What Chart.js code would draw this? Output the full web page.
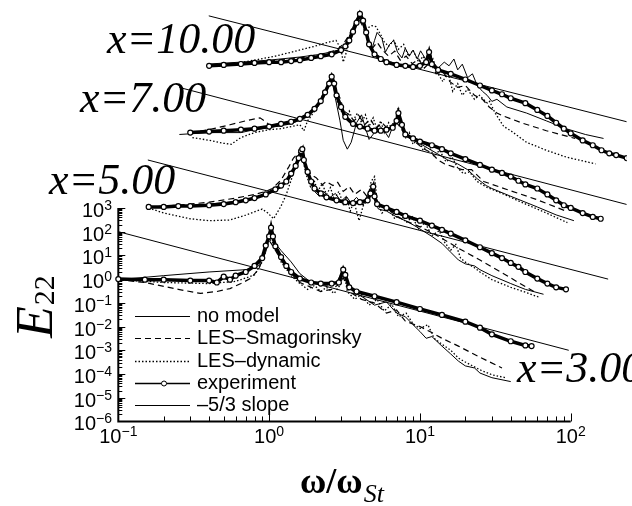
<!DOCTYPE html>
<html>
<head>
<meta charset="utf-8">
<script src="https://cdn.jsdelivr.net/npm/chart.js@4.4.1/dist/chart.umd.min.js"></script>
<style>
  html, body { margin: 0; padding: 0; background: #fff; }
</style>
</head>
<body>
<canvas id="spectra" width="632" height="506"></canvas>
<script>
// E22 spectra vs omega/omega_St, pairs are [omega, E22]
// the upper stations are stacked: shifted right and up on the same axes

const stations = ['x=3.00', 'x=5.00', 'x=7.00', 'x=10.00'];
const legendLabels = ['no model', 'LES\u2013Smagorinsky', 'LES\u2013dynamic', 'experiment', '\u20135/3 slope'];
const xTickValues = [0.1, 1, 10, 100];
const xTickExps = ['\u22121', '0', '1', '2'];
const yTickValues = [1e3, 1e2, 1e1, 1, 1e-1, 1e-2, 1e-3, 1e-4, 1e-5, 1e-6];
const yTickExps = ['3', '2', '1', '0', '\u22121', '\u22122', '\u22123', '\u22124', '\u22125', '\u22126'];

// x = 3.00
const exp3 = [[0.1,1.0],[0.15,0.95],[0.2,0.95],[0.3,0.87],[0.4,0.87],[0.45,0.72],[0.5,1.27],[0.55,0.95],[0.6,1.4],[0.7,2.0],[0.8,3.6],[0.9,7.7],[0.95,26],[1.0,63],[1.03,148],[1.06,63],[1.1,24],[1.2,8.5],[1.3,3.6],[1.4,2.0],[1.6,1.05],[1.9,0.72],[2.2,0.65],[2.6,0.65],[2.9,0.72],[3.1,2.5],[3.2,1.5],[3.4,0.45],[3.8,0.3],[5,0.19],[7,0.107],[10,0.055],[14,0.031],[20,0.016],[25,0.009],[30,0.0047],[40,0.0024],[50,0.0016],[55,0.0015]];
const none3 = [[0.1,0.95],[0.2,1.4],[0.4,2.0],[0.7,2.5],[0.85,3.6],[0.95,13.7],[1.0,92],[1.06,43],[1.2,16],[1.4,5.3],[1.6,1.7],[1.9,0.72],[2.4,0.54],[2.8,0.72],[3.05,2.0],[3.2,0.95],[3.6,0.30],[4.2,0.17],[5,0.08],[6,0.11],[7,0.037],[8,0.026],[9,0.012],[10,0.0062],[11,0.0032],[12,0.0038],[14,0.0015],[16,7e-4],[18,3.5e-4],[20,2.2e-4],[23,1.8e-4],[25,1.1e-4],[30,7e-5],[40,4.8e-5]];
const smag3 = [[0.1,0.95],[0.15,0.72],[0.25,0.37],[0.35,0.25],[0.45,0.30],[0.55,0.40],[0.65,0.65],[0.75,1.05],[0.85,2.5],[0.93,10],[1.0,43],[1.05,27],[1.2,6.4],[1.4,1.7],[1.6,0.72],[1.9,0.45],[2.2,0.30],[2.6,0.37],[2.9,0.6],[3.1,1.15],[3.4,0.30],[4.1,0.14],[5,0.098],[6,0.037],[7,0.05],[8,0.017],[10,0.01],[12,0.0056],[14,0.0032],[18,0.0015],[25,5.1e-4],[35,1.8e-4]];
const dyn3 = [[0.1,0.95],[0.2,0.72],[0.4,0.65],[0.6,0.8],[0.8,1.5],[0.9,5.3],[1.0,52],[1.08,29],[1.2,5.3],[1.4,1.4],[1.6,0.65],[1.8,0.37],[2.0,0.54],[2.2,0.30],[2.4,0.45],[2.7,0.25],[3.0,0.65],[3.1,3.0],[3.3,0.3],[3.7,0.14],[4.1,0.23],[4.6,0.08],[5.2,0.14],[5.8,0.045],[6.5,0.088],[7.2,0.026],[8.1,0.037],[9,0.013],[10,0.0083],[11.3,0.012],[12.4,0.0032],[14,0.0018],[16,0.001],[18,4.7e-4],[20,3.2e-4],[25,1.5e-4],[30,9.3e-5],[37,7e-5]];
const slope3 = [[0.1,100],[97,1e-3]];

// x = 5.00
const exp5 = [[0.159,1.1e3],[0.2,1.1e3],[0.25,1.2e3],[0.3,1.2e3],[0.4,1.3e3],[0.5,1.45e3],[0.6,1.75e3],[0.7,2.1e3],[0.8,2.6e3],[0.95,3.7e3],[1.1,6.1e3],[1.2,8.8e3],[1.3,1.3e4],[1.4,2.8e4],[1.5,5.9e4],[1.57,1.27e5],[1.63,2.5e5],[1.66,3.0e5],[1.7,1.05e5],[1.8,3.3e4],[1.9,1.3e4],[2.0,6.6e3],[2.2,4.1e3],[2.4,2.8e3],[2.8,2.1e3],[3.2,1.75e3],[3.6,1.6e3],[4.0,1.75e3],[4.5,2.1e3],[4.7,4.1e3],[4.9,7.9e3],[5.0,3.1e3],[5.2,1.45e3],[6,1e3],[7,6.8e2],[8,4.6e2],[10,2.9e2],[12,1.8e2],[14,1.2e2],[16,83],[20,43],[25,22],[30,12.4],[35,7.7],[40,4.8],[45,3.3],[50,2.0],[60,1.05],[70,0.65],[80,0.45],[93,0.37]];
const none5 = [[0.159,1.1e3],[0.3,1.2e3],[0.6,1.9e3],[0.95,3.4e3],[1.2,7.2e3],[1.4,2.1e4],[1.57,8.8e4],[1.66,2.2e5],[1.73,5.4e4],[1.88,1.3e4],[2.0,5.0e3],[2.15,3.1e3],[2.3,5.0e3],[2.5,2.6e3],[2.75,4.1e3],[3.0,1.9e3],[3.25,3.1e3],[3.5,1.6e3],[3.8,2.8e3],[4.2,1.3e3],[4.5,3.7e3],[4.8,9.6e3],[5,2.6e3],[5.3,9e2],[6,7.4e2],[7,4.2e2],[8,2.9e2],[9,1.95e2],[10,1.3e2],[12,63],[14,32],[16,13.6],[18,6.4],[20,4.4],[23,3.6],[25,2.5],[30,1.4],[40,0.65],[50,0.37],[66,0.23]];
const smag5 = [[0.159,1.1e3],[0.25,1.3e3],[0.4,1.75e3],[0.6,2.6e3],[0.8,3.7e3],[0.95,5.0e3],[1.05,6.6e3],[1.2,1.5e4],[1.35,5.4e4],[1.45,1.27e5],[1.57,2.2e5],[1.66,1.8e5],[1.75,6.5e4],[1.9,2.5e4],[2.05,1.9e4],[2.25,9.6e3],[2.4,1.3e4],[2.65,8.8e3],[2.85,1.2e4],[3.1,5.0e3],[3.4,7.9e3],[3.7,3.7e3],[4.1,6.1e3],[4.5,2.8e3],[4.9,4.5e3],[5.3,1.45e3],[6,1e3],[7,4.6e2],[8,2.9e2],[10,1.6e2],[12,92],[14,52],[18,20],[25,6.4],[35,1.85],[45,0.72],[60,0.25]];
const dyn5 = [[0.159,1e3],[0.2,6.1e2],[0.3,3.5e2],[0.4,2.9e2],[0.55,3.1e2],[0.7,5.0e2],[0.9,9e2],[0.98,6.1e2],[1.07,3.5e2],[1.2,1.2e3],[1.3,3.7e3],[1.4,1.5e4],[1.52,7.2e4],[1.6,1.8e5],[1.68,1.05e5],[1.75,2.8e4],[1.88,7.9e3],[2.0,1.3e4],[2.1,5.0e3],[2.25,1.05e4],[2.4,3.7e3],[2.55,7.2e3],[2.7,2.3e3],[2.9,5.0e3],[3.1,1.45e3],[3.25,3.1e3],[3.45,7.4e2],[3.65,1.9e3],[3.95,2.9e2],[4.2,1.2e3],[4.5,2.3e3],[4.75,1.3e4],[5,2.1e4],[5.2,1.9e3],[5.6,6.1e2],[6.2,1.1e3],[6.8,3.5e2],[7.4,6.1e2],[8.1,2.4e2],[8.9,4.2e2],[9.8,1.3e2],[10.8,2.4e2],[12,68],[13.4,1.1e2],[14.6,35],[16,16.6],[17.3,29],[18.6,7.7],[20,5.2],[23,3.0],[25,2.0],[30,0.95],[40,0.45],[50,0.28],[62,0.17]];
const slope5 = [[0.157,1.05e5],[177,1.0]];

// x = 7.00
const exp7 = [[0.3,1.5e6],[0.4,1.65e6],[0.5,1.8e6],[0.65,2.0e6],[0.8,2.2e6],[1.0,2.7e6],[1.2,3.5e6],[1.4,4.3e6],[1.6,5.7e6],[1.8,8.4e6],[2.0,1.5e7],[2.2,3.2e7],[2.35,7.5e7],[2.5,1.75e8],[2.6,3.4e8],[2.7,1.75e8],[2.8,5.6e7],[3.0,1.8e7],[3.2,6.9e6],[3.6,3.5e6],[4.0,2.7e6],[4.5,2.2e6],[5,1.8e6],[5.5,1.8e6],[6,2.0e6],[6.6,2.4e6],[7.0,4.7e6],[7.2,1e7],[7.6,3.2e6],[8,1.25e6],[9,8.5e5],[10,6.3e5],[12,4.4e5],[14,3e5],[16,2e5],[20,1.15e5],[25,6.5e4],[30,4.1e4],[35,3e4],[40,2.1e4],[45,1.4e4],[50,9.8e3],[60,6.6e3],[70,3.7e3],[80,2.1e3],[90,1.3e3],[100,1e3],[120,6.1e2],[140,4.2e2],[158,3.5e2]];
const none7 = [[0.254,1.25e6],[0.4,1.5e6],[0.65,1.5e6],[0.8,2e6],[1.0,2.4e6],[1.4,3.5e6],[1.8,6.9e6],[2.1,1.8e7],[2.3,5.6e7],[2.5,1.75e8],[2.6,2.8e8],[2.75,4.2e7],[2.95,4.7e6],[3.1,7.1e5],[3.3,3e5],[3.5,5.8e5],[3.8,3.9e6],[4.1,8.4e6],[4.35,2.4e6],[4.6,7.7e5],[5,1.5e6],[5.3,3.2e6],[5.8,1.8e6],[6.2,9.3e5],[6.6,2.7e6],[7.2,6.3e6],[7.7,1.8e6],[8.2,1e6],[9,7.1e5],[10,5.2e5],[11.3,3.3e5],[13.2,1.85e5],[15.3,1.05e5],[17.8,7.2e4],[20.7,4.1e4],[24,1.7e4],[27.5,8.8e3],[30,6.6e3],[40,3.1e3],[60,1.1e3],[80,5.1e2],[105,2.9e2]];
const smag7 = [[0.3,1.5e6],[0.4,2.0e6],[0.55,3.2e6],[0.7,4.7e6],[0.87,6.3e6],[0.95,4.3e6],[1.03,2.7e6],[1.2,2.9e6],[1.4,3.9e6],[1.7,6.3e6],[1.9,1e7],[2.05,1.8e7],[2.25,3.8e7],[2.4,1.05e8],[2.55,2.2e8],[2.7,1.45e8],[2.95,4.3e7],[3.15,1.2e7],[3.4,8.4e6],[3.65,4.7e6],[3.95,7.6e6],[4.3,3.2e6],[4.7,5.7e6],[5.1,2.2e6],[5.6,3.9e6],[6.2,2.0e6],[6.8,4.7e6],[7.2,3.2e6],[7.8,1.5e6],[8.5,9.4e5],[9.4,5.7e5],[10.5,3.2e5],[11.8,2.2e5],[13.2,1.05e5],[14.6,7.1e4],[16.7,5.4e4],[19,4.1e4],[22,4.1e4],[26.5,1.3e4],[37.7,6e3],[59,2.3e3],[93,7.4e2]];
const dyn7 = [[0.31,9.3e5],[0.4,7.1e5],[0.5,5.3e5],[0.56,4.8e5],[0.65,9.3e5],[0.8,1.5e6],[1.0,2e6],[1.2,2.2e6],[1.4,2.7e6],[1.6,3.2e6],[1.7,1.8e6],[1.8,4.7e6],[2.0,1.2e7],[2.2,3.8e7],[2.4,1.2e8],[2.55,2.6e8],[2.7,1e8],[2.85,2.6e7],[3.05,1e7],[3.2,5.7e6],[3.4,1.2e7],[3.6,4.7e6],[3.85,1e7],[4.1,3.9e6],[4.35,8.4e6],[4.6,2.7e6],[4.9,6.3e6],[5.2,2e6],[5.5,4.7e6],[5.8,1.5e6],[6.2,3.9e6],[6.6,1.8e6],[7,8.4e6],[7.2,1.8e7],[7.6,2.7e6],[8,8.5e5],[8.5,1.5e6],[9,4.8e5],[9.8,8.5e5],[10.5,2.7e5],[11.3,4.8e5],[12.4,1.5e5],[13.5,2.7e5],[14.9,8.7e4],[16.3,1.4e5],[17.8,4.9e4],[19.4,2.8e4],[21.3,3.3e4],[24,1.3e4],[27.9,7.3e3],[35,4.1e3],[47,1.75e3],[69,6.1e2],[95,2.4e2]];
const slope7 = [[0.254,1.2e8],[235,1.4e3]];

// x = 10.00
const exp10 = [[0.4,9.8e8],[0.5,1.07e9],[0.65,1.17e9],[0.8,1.3e9],[1.0,1.4e9],[1.2,1.4e9],[1.4,1.55e9],[1.6,1.7e9],[1.9,2.1e9],[2.2,2.5e9],[2.6,3.0e9],[3.0,4.5e9],[3.2,6.5e9],[3.4,1.15e10],[3.6,2.7e10],[3.8,6.4e10],[4.0,1.5e11],[4.2,7.8e10],[4.4,2.5e10],[4.6,7.9e9],[5,3.0e9],[5.5,1.9e9],[6,1.4e9],[7,1.07e9],[8,9.8e8],[9,8.8e8],[10,9.8e8],[11,1.4e9],[11.5,3.7e9],[12,1.15e9],[13.2,6.6e8],[16,4.5e8],[20,2.6e8],[25,1.45e8],[30,9e7],[35,6.2e7],[40,4.2e7],[50,2.6e7],[60,1.35e7],[70,7.6e6],[80,3.9e6],[90,2.2e6],[100,1.4e6],[120,7e5],[140,4.4e5],[160,2.7e5],[180,2.0e5],[200,1.7e5],[235,1.26e5]];
const none10 = [[0.4,1.17e9],[0.65,1.4e9],[1.0,1.7e9],[1.6,2.3e9],[2.2,3.0e9],[2.7,4.1e9],[3.05,4.9e9],[3.4,1.7e10],[3.75,8.5e10],[4.0,1.4e11],[4.25,5.3e10],[4.5,1.4e10],[4.8,4.9e9],[5,1.15e10],[5.2,2.5e10],[5.6,1.4e10],[5.9,3.7e9],[6.3,7.9e9],[6.7,1.15e10],[7.1,3.7e9],[7.6,2.1e9],[8.0,5.4e9],[8.5,2.5e9],[9,4.5e9],[9.6,1.9e9],[10.1,4.2e9],[11,1.7e9],[11.5,4.9e9],[12.2,1.4e9],[13.2,7.9e8],[14.5,1.4e9],[15.6,9.8e8],[16.8,1.9e9],[17.8,6.6e8],[19.1,1.15e9],[20.7,3.1e8],[22.3,4.5e8],[24,1.45e8],[26,8.2e7],[27.9,5.6e7],[30,3.1e7],[32.4,3.8e7],[37.7,1.8e7],[50.9,1e7],[68.8,4.7e6],[93,2.2e6],[125,1.25e6],[165,8.5e5]];
const smag10 = [[0.4,1.07e9],[0.65,1.3e9],[1.0,1.55e9],[1.6,2.1e9],[2.2,3.0e9],[2.8,4.5e9],[3.1,7.9e9],[3.4,2e10],[3.7,6.4e10],[3.9,1e11],[4.2,4.4e10],[4.5,1.15e10],[4.85,5.4e9],[5.2,9.6e9],[5.65,4.5e9],[6.2,2.5e9],[6.8,4.1e9],[7.4,1.7e9],[8.1,2.5e9],[8.9,1.2e9],[9.8,1.9e9],[10.7,7.9e8],[11.7,1.4e9],[12.8,4.5e8],[14.2,5.5e8],[15.8,2.1e8],[17.8,1.2e8],[20,1.45e8],[23,5.6e7],[26,3.8e7],[28.8,1.8e7],[32.4,1e7],[35.5,7.6e6],[47,3.9e6],[69,1.8e6],[107,8.5e5]];
const dyn10 = [[0.4,9.8e8],[0.56,1.17e9],[0.8,1.7e9],[1.1,2.5e9],[1.5,4.1e9],[2.0,6.5e9],[2.45,9.6e9],[2.78,1.15e10],[3.0,4.9e9],[3.1,1.4e9],[3.3,4.9e9],[3.5,2e10],[3.75,6.4e10],[3.9,1.1e11],[4.2,6.4e10],[4.4,3.6e10],[4.8,4.8e10],[5.1,4.4e10],[5.5,2e10],[5.8,1e10],[6.2,6.5e9],[6.7,1.15e10],[7.2,4.9e9],[7.8,7.8e9],[8.4,2.5e9],[9,4.5e9],[9.8,1.4e9],[10.5,2.5e9],[11.3,9.8e8],[12.2,1.9e9],[13.2,4.5e8],[14.2,2.1e8],[15.3,5.5e8],[16.5,8.2e7],[17.8,1.75e8],[19.1,5.6e7],[20.7,1e8],[23,3.8e7],[24.8,5.6e7],[28,2.6e7],[29,3.1e7],[31.5,1e7],[34,4.7e6],[36,2.7e6],[40,1.8e6],[51,5.8e5],[69,2.7e5],[93,1.4e5],[146,7.2e4]];
const slope10 = [[0.398,1.25e11],[235,4.3e6]];

// axis box of the labelled frame (canvas px); the data runs past it
const W = 632, H = 506;
const box = { left: 115, right: 575, top: 207, bottom: 425 };
const xPerDecade = (box.right - box.left) / 3;   // 1e-1 .. 1e2
const yPerDecade = (box.bottom - box.top) / 9;   // 1e-6 .. 1e3
const xMin = 0.1 * Math.pow(10, -box.left / xPerDecade);
const xMax = 100 * Math.pow(10, (W - box.right) / xPerDecade);
const yMax = 1e3 * Math.pow(10, box.top / yPerDecade);
const yMin = 1e-6 * Math.pow(10, -(H - box.bottom) / yPerDecade);

const SANS = '"Liberation Sans", Arial, sans-serif';
const SERIF = '"Liberation Serif", "Times New Roman", serif';

const look = {
  experiment: { borderWidth: 3.5, pointRadius: 2.5, pointBackgroundColor: '#fff', pointBorderColor: '#000', pointBorderWidth: 1.2 },
  none: { borderWidth: 1 },
  smag: { borderWidth: 1.2, borderDash: [6, 4] },
  dyn: { borderWidth: 1.3, borderDash: [1.5, 2] },
  slope: { borderWidth: 1 }
};

function curve(points, kind) {
  return Object.assign({
    data: points.map(([x, y]) => ({ x, y })),
    showLine: true,
    borderColor: '#000',
    backgroundColor: '#000',
    pointRadius: 0,
    tension: 0,
    fill: false
  }, look[kind]);
}

// experiments first so they end up on top
const datasets = [
  curve(exp3, 'experiment'), curve(exp5, 'experiment'), curve(exp7, 'experiment'), curve(exp10, 'experiment'),
  curve(none3, 'none'), curve(none5, 'none'), curve(none7, 'none'), curve(none10, 'none'),
  curve(smag3, 'smag'), curve(smag5, 'smag'), curve(smag7, 'smag'), curve(smag10, 'smag'),
  curve(dyn3, 'dyn'), curve(dyn5, 'dyn'), curve(dyn7, 'dyn'), curve(dyn10, 'dyn'),
  curve(slope3, 'slope'), curve(slope5, 'slope'), curve(slope7, 'slope'), curve(slope10, 'slope')
];

function powerLabel(ctx, exp, x, base, anchor) {
  ctx.font = '20px ' + SANS;
  const wb = ctx.measureText('10').width;
  ctx.font = '14px ' + SANS;
  const we = ctx.measureText(exp).width;
  const left = anchor === 'right' ? x - wb - we : x - (wb + we) / 2;
  ctx.font = '20px ' + SANS;
  ctx.fillText('10', left, base);
  ctx.font = '14px ' + SANS;
  ctx.fillText(exp, left + wb, base - 7);
}

// frame, ticks and labels drawn through the chart's own scales
const frame = {
  id: 'frame',
  beforeDatasetsDraw(chart) {
    const { ctx, scales: { x, y } } = chart;
    const x0 = x.getPixelForValue(0.1), x1 = x.getPixelForValue(100);
    const y0 = y.getPixelForValue(1e-6), y1 = y.getPixelForValue(1e3);
    ctx.save();
    ctx.strokeStyle = '#000';
    ctx.lineWidth = 2;
    ctx.beginPath();
    ctx.moveTo(x0, y1); ctx.lineTo(x0, y0); ctx.lineTo(x1, y0);
    ctx.stroke();

    ctx.lineWidth = 1;
    for (let k = -1; k <= 2; k++) {
      for (let m = 1; m <= 9; m++) {
        if (k === 2 && m > 1) break;
        const px = Math.round(x.getPixelForValue(m * Math.pow(10, k))) + 0.5;
        ctx.beginPath(); ctx.moveTo(px, y0); ctx.lineTo(px, y0 - (m === 1 ? 8 : 5)); ctx.stroke();
      }
    }
    for (let k = -6; k <= 3; k++) {
      for (let m = 1; m <= 9; m++) {
        if (k === 3 && m > 1) break;
        const py = Math.round(y.getPixelForValue(m * Math.pow(10, k))) + 0.5;
        ctx.beginPath(); ctx.moveTo(x0, py); ctx.lineTo(x0 + (m === 1 ? 7 : 4), py); ctx.stroke();
      }
    }
    ctx.restore();
  },
  afterDatasetsDraw(chart) {
    const { ctx, scales: { x, y } } = chart;
    ctx.save();
    ctx.fillStyle = '#000';
    ctx.strokeStyle = '#000';
    ctx.textBaseline = 'alphabetic';
    ctx.textAlign = 'left';

    xTickValues.forEach((v, i) => powerLabel(ctx, xTickExps[i], x.getPixelForValue(v), 443, 'center'));
    yTickValues.forEach((v, i) => powerLabel(ctx, yTickExps[i], 112, y.getPixelForValue(v) + 9, 'right'));

    // axis titles
    ctx.font = 'bold 36px ' + SERIF;
    ctx.fillText('\u03c9/\u03c9', 300, 493);
    const wOm = ctx.measureText('\u03c9/\u03c9').width;
    ctx.font = 'italic 26px ' + SERIF;
    ctx.fillText('St', 300 + wOm + 1, 502);

    ctx.save();
    ctx.translate(52, 338);
    ctx.rotate(-Math.PI / 2);
    ctx.font = 'italic 52px ' + SERIF;
    ctx.fillText('E', 0, 0);
    const wE = ctx.measureText('E').width;
    ctx.font = '30px ' + SERIF;
    ctx.fillText('22', wE + 1, 2);
    ctx.restore();

    // station labels
    ctx.font = 'italic 44px ' + SERIF;
    const spots = [[517, 382], [49, 194], [80, 112], [107, 53]];
    stations.forEach((s, i) => ctx.fillText(s, spots[i][0], spots[i][1]));

    // legend
    const kinds = ['none', 'smag', 'dyn', 'experiment', 'slope'];
    ctx.font = '20px ' + SANS;
    kinds.forEach((k, i) => {
      const base = 322 + i * 22.3;
      const ly = Math.round(base - 6) + 0.5;
      ctx.save();
      ctx.lineWidth = k === 'experiment' ? 1.5 : (look[k].borderWidth || 1);
      ctx.setLineDash(look[k].borderDash || []);
      ctx.beginPath(); ctx.moveTo(135, ly); ctx.lineTo(190, ly); ctx.stroke();
      ctx.setLineDash([]);
      if (k === 'experiment') {
        ctx.fillStyle = '#fff';
        ctx.lineWidth = 1;
        ctx.beginPath(); ctx.arc(164, ly, 2.5, 0, Math.PI * 2); ctx.fill(); ctx.stroke();
      }
      ctx.restore();
      ctx.fillText(legendLabels[i], 197, base);
    });
    ctx.restore();
  }
};

new Chart(document.getElementById('spectra'), {
  type: 'scatter',
  data: { datasets },
  options: {
    responsive: false,
    animation: false,
    devicePixelRatio: 1,
    events: [],
    layout: { padding: 0 },
    plugins: { legend: { display: false }, tooltip: { enabled: false } },
    scales: {
      x: { type: 'logarithmic', display: false, min: xMin, max: xMax, bounds: 'data' },
      y: { type: 'logarithmic', display: false, min: yMin, max: yMax, bounds: 'data' }
    }
  },
  plugins: [frame]
});
</script>
</body>
</html>
